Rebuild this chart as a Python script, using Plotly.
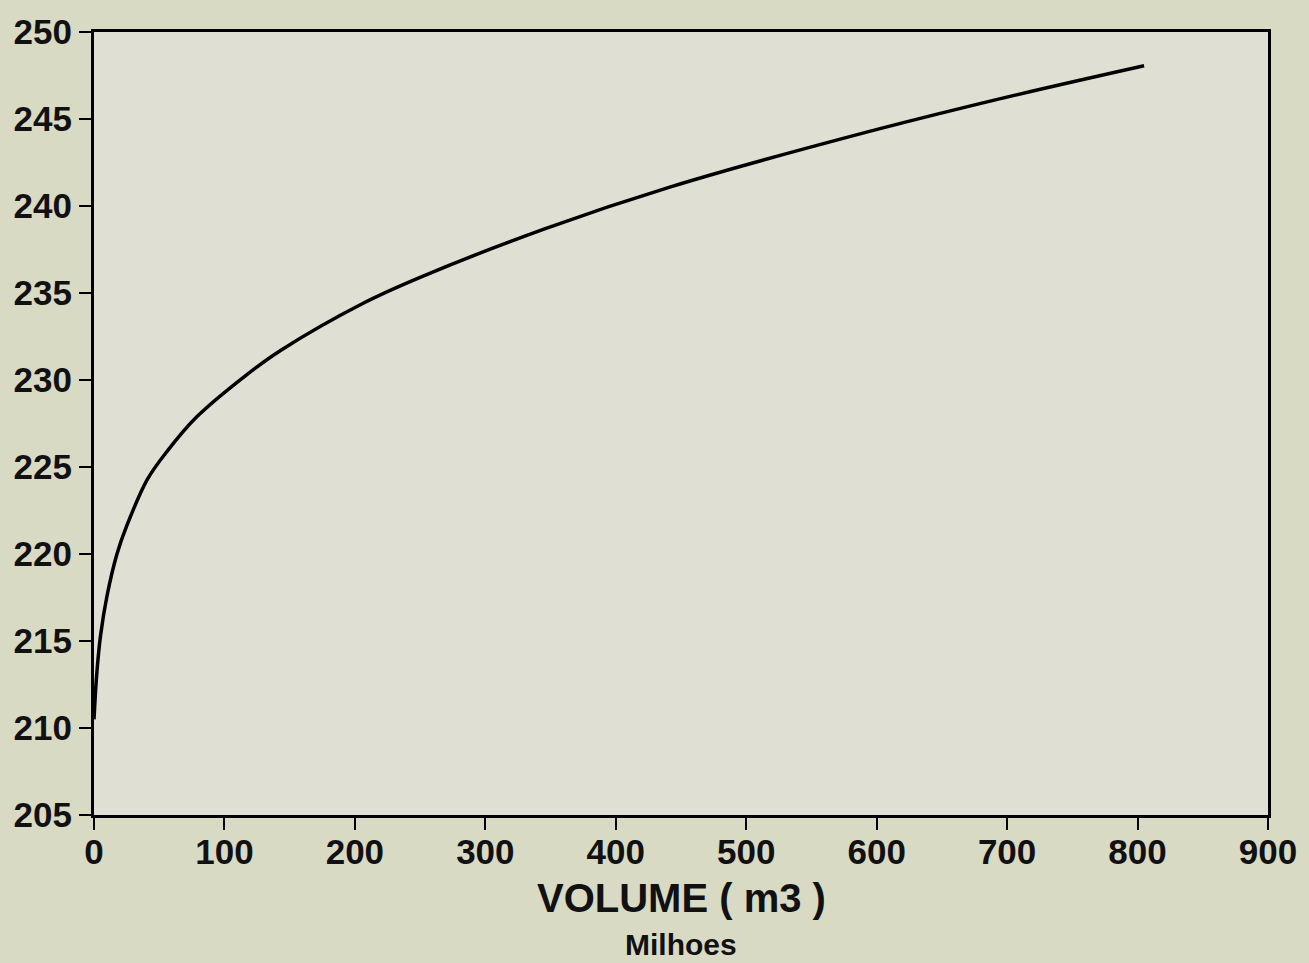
import plotly.graph_objects as go

volume = [0, 2, 5, 10, 17.6, 25, 41, 56, 79, 117, 143, 206, 250, 346, 442, 580, 695, 805]
cota = [210.5, 213.0, 215.3, 217.6, 220.0, 221.6, 224.3, 225.9, 227.9, 230.3, 231.7, 234.4, 235.9,
        238.7, 241.1, 244.0, 246.17, 248.06]

x_ticks = [0, 100, 200, 300, 400, 500, 600, 700, 800, 900]
y_ticks = [205, 210, 215, 220, 225, 230, 235, 240, 245, 250]

fig = go.Figure()
fig.add_trace(go.Scatter(x=volume, y=cota, mode="lines",
                         line=dict(color="black", width=3.5, shape="spline", smoothing=1.0),
                         showlegend=False, hoverinfo="skip"))

tickfont = dict(family="Liberation Sans, Arial, sans-serif", size=35, color="#111", weight="bold")

fig.update_layout(
    width=1309, height=963,
    margin=dict(l=94, r=41, t=28, b=148),
    paper_bgcolor="#d9dac4",
    plot_bgcolor="#dfe0d3",
    xaxis=dict(range=[0, 900], tickvals=x_ticks, ticks="outside", ticklen=12, tickwidth=2,
               tickcolor="black", showline=True, linecolor="black", linewidth=3, mirror=True,
               showgrid=False, zeroline=False, tickfont=tickfont, ticklabelstandoff=-8),
    yaxis=dict(range=[205, 250], tickvals=y_ticks, ticks="outside", ticklen=12, tickwidth=2,
               tickcolor="black", showline=True, linecolor="black", linewidth=3, mirror=True,
               showgrid=False, zeroline=False, tickfont=tickfont),
    annotations=[
        dict(text="<b>VOLUME ( m3 )</b>", x=0.5, y=-0.106, xref="paper", yref="paper",
             showarrow=False, xanchor="center", yanchor="middle",
             font=dict(family="Liberation Sans, Arial, sans-serif", size=40, color="#111")),
        dict(text="<b>Milhoes</b>", x=0.5, y=-0.166, xref="paper", yref="paper",
             showarrow=False, xanchor="center", yanchor="middle",
             font=dict(family="Liberation Sans, Arial, sans-serif", size=30, color="#111")),
    ],
)

fig.write_html("out.html")
